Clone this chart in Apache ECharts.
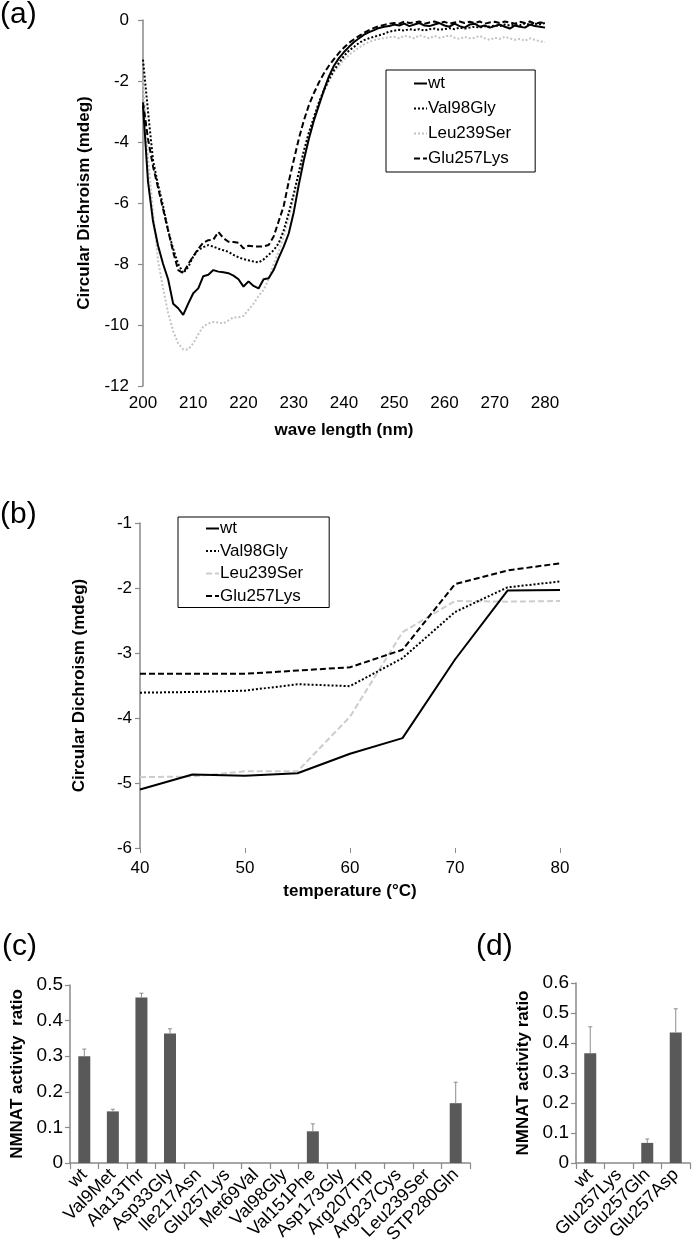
<!DOCTYPE html>
<html><head><meta charset="utf-8">
<script src="https://cdn.jsdelivr.net/npm/echarts@6/dist/echarts.min.js"></script>
<style>html,body{margin:0;padding:0;background:#fff}#c{width:693px;height:1251px}</style>
</head><body><div id="c"></div>
<script>
const FONT = '"Liberation Sans", Arial, sans-serif';

// ---- Panel (a): CD spectra, wavelength 200..280 nm (1 nm steps) ----
const wavelength = [200,201,202,203,204,205,206,207,208,209,210,211,212,213,214,215,216,217,218,219,220,221,222,223,224,225,226,227,228,229,230,231,232,233,234,235,236,237,238,239,240,241,242,243,244,245,246,247,248,249,250,251,252,253,254,255,256,257,258,259,260,261,262,263,264,265,266,267,268,269,270,271,272,273,274,275,276,277,278,279,280];
const cdWt = [-2.8,-5.3,-6.6,-7.4,-8.0,-8.5,-9.3,-9.45,-9.67,-9.3,-8.96,-8.8,-8.4,-8.35,-8.2,-8.25,-8.27,-8.3,-8.38,-8.5,-8.74,-8.57,-8.72,-8.8,-8.5,-8.47,-8.2,-7.8,-7.43,-7.0,-6.3,-5.4,-4.6,-3.9,-3.3,-2.8,-2.3,-1.85,-1.5,-1.25,-1.05,-0.88,-0.72,-0.6,-0.48,-0.4,-0.33,-0.26,-0.22,-0.2,-0.15,-0.18,-0.12,-0.2,-0.15,-0.1,-0.18,-0.2,-0.15,-0.1,-0.18,-0.22,-0.12,-0.2,-0.25,-0.15,-0.12,-0.22,-0.18,-0.25,-0.2,-0.15,-0.22,-0.28,-0.18,-0.22,-0.25,-0.15,-0.2,-0.22,-0.25];
const cdVal98Gly = [-1.3,-3.0,-4.6,-5.4,-6.1,-6.9,-7.5,-8.0,-8.3,-8.1,-7.76,-7.54,-7.45,-7.38,-7.43,-7.5,-7.55,-7.6,-7.7,-7.78,-7.84,-7.88,-7.92,-7.95,-7.85,-7.7,-7.55,-7.32,-6.9,-6.33,-5.7,-5.0,-4.3,-3.7,-3.2,-2.7,-2.3,-1.95,-1.65,-1.4,-1.18,-1.0,-0.88,-0.75,-0.66,-0.6,-0.55,-0.5,-0.45,-0.38,-0.35,-0.32,-0.35,-0.3,-0.33,-0.3,-0.35,-0.3,-0.28,-0.32,-0.3,-0.27,-0.3,-0.25,-0.28,-0.25,-0.22,-0.25,-0.2,-0.22,-0.18,-0.2,-0.15,-0.18,-0.15,-0.17,-0.12,-0.15,-0.12,-0.14,-0.1];
const cdLeu239Ser = [-2.0,-4.5,-6.3,-7.9,-8.8,-9.6,-10.2,-10.6,-10.8,-10.8,-10.6,-10.3,-10.05,-9.95,-9.9,-9.92,-9.95,-9.85,-9.75,-9.75,-9.7,-9.5,-9.3,-9.05,-8.85,-8.5,-8.0,-7.6,-7.1,-6.5,-5.8,-5.0,-4.3,-3.7,-3.2,-2.75,-2.35,-2.0,-1.7,-1.5,-1.3,-1.15,-1.02,-0.9,-0.8,-0.72,-0.66,-0.62,-0.6,-0.56,-0.55,-0.6,-0.52,-0.55,-0.6,-0.5,-0.55,-0.6,-0.52,-0.58,-0.55,-0.5,-0.58,-0.62,-0.55,-0.6,-0.58,-0.52,-0.6,-0.65,-0.58,-0.62,-0.55,-0.6,-0.65,-0.62,-0.68,-0.6,-0.65,-0.7,-0.72];
const cdGlu257Lys = [-2.7,-3.9,-4.8,-5.5,-6.2,-6.9,-7.6,-8.2,-8.3,-8.0,-7.75,-7.5,-7.3,-7.22,-7.2,-6.95,-7.15,-7.27,-7.28,-7.3,-7.49,-7.4,-7.42,-7.43,-7.42,-7.38,-7.1,-6.6,-6.1,-5.3,-4.6,-3.9,-3.3,-2.8,-2.4,-2.05,-1.75,-1.5,-1.28,-1.08,-0.9,-0.75,-0.63,-0.52,-0.42,-0.33,-0.26,-0.2,-0.16,-0.12,-0.1,-0.12,-0.05,-0.1,-0.08,-0.05,-0.12,-0.08,-0.05,-0.1,-0.06,-0.12,-0.08,-0.05,-0.1,-0.06,-0.1,-0.05,-0.12,-0.08,-0.06,-0.1,-0.05,-0.08,-0.12,-0.06,-0.1,-0.05,-0.12,-0.08,-0.1];

// ---- Panel (b): thermal melt ----
const temperature = [40,45,50,55,60,65,70,75,80];
const tmWt = [-5.1,-4.87,-4.89,-4.85,-4.55,-4.31,-3.1,-2.04,-2.03];
const tmVal98Gly = [-3.61,-3.6,-3.58,-3.48,-3.51,-3.08,-2.37,-1.99,-1.9];
const tmLeu239Ser = [-4.91,-4.9,-4.82,-4.82,-3.98,-2.68,-2.2,-2.21,-2.2];
const tmGlu257Lys = [-3.32,-3.32,-3.32,-3.27,-3.22,-2.95,-1.94,-1.73,-1.62];

// ---- Panel (c): NMNAT activity ratio ----
const mutantsC = ['wt','Val9Met','Ala13Thr','Asp33Gly','Ile217Asn','Glu257Lys','Met69Val','Val98Gly','Val151Phe','Asp173Gly','Arg207Trp','Arg237Cys','Leu239Ser','STP280Gln'];
const activityC = [0.30,0.145,0.465,0.364,0,0,0,0,0.089,0,0,0,0,0.168];
const errorC = [0.02,0.006,0.012,0.013,0,0,0,0,0.021,0,0,0,0,0.059];

// ---- Panel (d) ----
const mutantsD = ['wt','Glu257Lys','Glu257Gln','Glu257Asp'];
const activityD = [0.366,0,0.067,0.435];
const errorD = [0.088,0,0.013,0.079];

const AXIS_GREY = '#8a8a8a';
const pairs = (xs, ys) => xs.map((x, i) => [x, ys[i]]);

function valueAxis(grid, min, max, interval, fs, extra) {
  return Object.assign({
    type: 'value', gridIndex: grid, min, max, interval,
    axisLine: { show: true, onZero: false, lineStyle: { color: AXIS_GREY, width: 1.5 } },
    axisTick: { show: true, length: 5, lineStyle: { color: AXIS_GREY, width: 1.2 } },
    splitLine: { show: false },
    axisLabel: { color: '#000', fontSize: fs, fontFamily: FONT, margin: 8 },
    nameTextStyle: { color: '#000', fontSize: 17, fontWeight: 'bold', fontFamily: FONT },
    nameLocation: 'middle'
  }, extra || {});
}

function errSeries(xi, cats, vals, errs) {
  return {
    type: 'custom', xAxisIndex: xi, yAxisIndex: xi, z: 3, silent: true,
    data: cats.map((c, i) => [i, vals[i], vals[i] + errs[i], errs[i]]),
    renderItem(params, api) {
      if (api.value(3) <= 0) return null;
      const lo = api.coord([api.value(0), api.value(1)]);
      const hi = api.coord([api.value(0), api.value(2)]);
      const style = { stroke: '#8c8c8c', lineWidth: 1 };
      return { type: 'group', children: [
        { type: 'line', shape: { x1: lo[0], y1: lo[1], x2: hi[0], y2: hi[1] }, style },
        { type: 'line', shape: { x1: hi[0] - 2, y1: hi[1], x2: hi[0] + 2, y2: hi[1] }, style }
      ]};
    }
  };
}

const solid = { color: '#000', width: 2, type: 'solid' };
const dotBlack = { color: '#000', width: 2, type: [2, 2] };
const dotGrey = { color: '#c4c4c4', width: 2, type: [2, 2] };
const dashBlack = { color: '#000', width: 2, type: [6, 3] };
const dashGrey = { color: '#cdcdcd', width: 2, type: [6, 3] };

function lineSeries(name, idx, xs, ys, ls) {
  return { name, type: 'line', xAxisIndex: idx, yAxisIndex: idx, data: pairs(xs, ys),
    symbol: 'none', showSymbol: false, lineStyle: ls, itemStyle: { color: ls.color },
    silent: true, animation: false };
}

const legendCommon = {
  orient: 'vertical', itemWidth: 13, itemHeight: 14,
  borderColor: '#000', borderWidth: 1, selectedMode: false,
  itemStyle: { opacity: 0 },
  textStyle: { fontSize: 17, color: '#000', fontFamily: FONT, padding: [0, 0, 0, -4] }
};

const chart = echarts.init(document.getElementById('c'), null, { renderer: 'canvas' });
chart.setOption({
  animation: false,
  backgroundColor: '#fff',
  textStyle: { fontFamily: FONT },
  title: [
    { text: '(a)', left: 0, top: 0, padding: 0, textStyle: { fontSize: 30, fontWeight: 'normal', color: '#000', fontFamily: FONT } },
    { text: '(b)', left: 0, top: 500, padding: 0, textStyle: { fontSize: 30, fontWeight: 'normal', color: '#000', fontFamily: FONT } },
    { text: '(c)', left: 2, top: 932, padding: 0, textStyle: { fontSize: 30, fontWeight: 'normal', color: '#000', fontFamily: FONT } },
    { text: '(d)', left: 476, top: 932, padding: 0, textStyle: { fontSize: 30, fontWeight: 'normal', color: '#000', fontFamily: FONT } }
  ],
  legend: [
    Object.assign({}, legendCommon, { data: ['wt', 'Val98Gly', 'Leu239Ser', 'Glu257Lys'], left: 386, top: 70,
      padding: [5, 24, 5, 27], itemGap: 8 }),
    Object.assign({}, legendCommon, { data: ['b:wt', 'b:Val98Gly', 'b:Leu239Ser', 'b:Glu257Lys'], left: 178, top: 517,
      padding: [3, 26, 3, 27], itemGap: 5.5, formatter: n => n.replace('b:', '') })
  ],
  grid: [
    { left: 143, top: 20, width: 402, height: 366, outerBoundsMode: 'none' },
    { left: 140, top: 523, width: 420, height: 325, outerBoundsMode: 'none' },
    { left: 70, top: 985, width: 400, height: 178, outerBoundsMode: 'none' },
    { left: 576, top: 983, width: 114, height: 180, outerBoundsMode: 'none' }
  ],
  xAxis: [
    valueAxis(0, 200, 280, 10, 17, { name: 'wave length (nm)', nameGap: 36,
      axisLine: { show: false }, axisTick: { show: false },
      axisLabel: { color: '#000', fontSize: 17, fontFamily: FONT, margin: 9 } }),
    valueAxis(1, 40, 80, 10, 17, { name: 'temperature (°C)', nameGap: 35,
      axisLine: { show: false }, axisTick: { show: true, length: 5, lineStyle: { color: AXIS_GREY } },
      axisLabel: { color: '#000', fontSize: 17, fontFamily: FONT, margin: 12 } }),
    { type: 'category', gridIndex: 2, data: mutantsC,
      axisLine: { lineStyle: { color: AXIS_GREY, width: 1.5 } },
      axisTick: { show: true, length: 6, lineStyle: { color: AXIS_GREY, width: 1.2 } },
      axisLabel: { interval: 0, rotate: 45, fontSize: 18, color: '#000', fontFamily: FONT, margin: 9 } },
    { type: 'category', gridIndex: 3, data: mutantsD,
      axisLine: { lineStyle: { color: AXIS_GREY, width: 1.5 } },
      axisTick: { show: true, length: 6, lineStyle: { color: AXIS_GREY, width: 1.2 } },
      axisLabel: { interval: 0, rotate: 45, fontSize: 18, color: '#000', fontFamily: FONT, margin: 9 } }
  ],
  yAxis: [
    valueAxis(0, -12, 0, 2, 17, { name: 'Circular Dichroism (mdeg)', nameGap: 50,
      axisLabel: { color: '#000', fontSize: 17, fontFamily: FONT, margin: 14 } }),
    valueAxis(1, -6, -1, 1, 17, { name: 'Circular Dichroism (mdeg)', nameGap: 52,
      axisLabel: { color: '#000', fontSize: 17, fontFamily: FONT, margin: 8 } }),
    valueAxis(2, 0, 0.5, 0.1, 19, { name: 'NMNAT activity  ratio', nameGap: 44,
      axisLabel: { color: '#000', fontSize: 19, fontFamily: FONT, margin: 7 } }),
    valueAxis(3, 0, 0.6, 0.1, 19, { name: 'NMNAT activity ratio', nameGap: 44,
      axisLabel: { color: '#000', fontSize: 19, fontFamily: FONT, margin: 7 } })
  ],
  series: [
    lineSeries('Leu239Ser', 0, wavelength, cdLeu239Ser, dotGrey),
    lineSeries('Val98Gly', 0, wavelength, cdVal98Gly, dotBlack),
    lineSeries('Glu257Lys', 0, wavelength, cdGlu257Lys, dashBlack),
    lineSeries('wt', 0, wavelength, cdWt, solid),
    lineSeries('b:Leu239Ser', 1, temperature, tmLeu239Ser, dashGrey),
    lineSeries('b:Val98Gly', 1, temperature, tmVal98Gly, dotBlack),
    lineSeries('b:Glu257Lys', 1, temperature, tmGlu257Lys, dashBlack),
    lineSeries('b:wt', 1, temperature, tmWt, solid),
    { type: 'bar', xAxisIndex: 2, yAxisIndex: 2, data: activityC, barWidth: 12,
      itemStyle: { color: '#595959' }, silent: true },
    errSeries(2, mutantsC, activityC, errorC),
    { type: 'bar', xAxisIndex: 3, yAxisIndex: 3, data: activityD, barWidth: 12,
      itemStyle: { color: '#595959' }, silent: true },
    errSeries(3, mutantsD, activityD, errorD)
  ]
});
</script>
</body></html>
